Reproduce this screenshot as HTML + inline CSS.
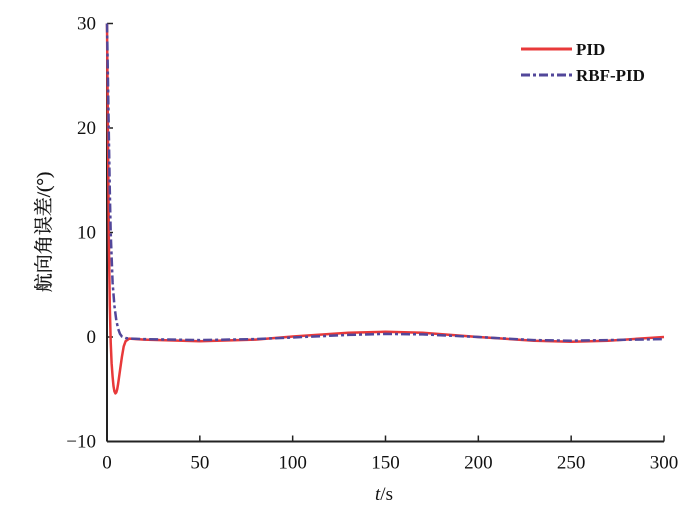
<!DOCTYPE html>
<html><head><meta charset="utf-8"><style>
body{margin:0;background:#fff;width:700px;height:522px;overflow:hidden}
text{font-family:"Liberation Serif","Noto Serif CJK SC",serif;fill:#111}
</style></head><body>
<svg width="700" height="522">
<g id="axes"></g><g id="series"></g>
<g>
<line x1="521" y1="49" x2="572" y2="49" stroke="#e8393a" stroke-width="3"/>
<text x="576" y="55" font-size="17" font-weight="bold">PID</text>
<line x1="521" y1="75" x2="572" y2="75" stroke="#52479a" stroke-width="3" stroke-dasharray="9,3,3,3"/>
<text x="576" y="81" font-size="17" font-weight="bold">RBF-PID</text>
</g>
<text x="384" y="500" font-size="19" text-anchor="middle"><tspan font-style="italic">t</tspan>/s</text>
<text transform="translate(50,232) rotate(-90)" font-size="19" text-anchor="middle" stroke="#111" stroke-width="0.3">航向角误差/(°)</text>
</svg>
<script>
const xTicks=[0,50,100,150,200,250,300];
const yTicks=[-10,0,10,20,30];
const yTickLabels=["−10","0","10","20","30"];
const tPID=[0,0.5,1,1.5,2,2.5,3,3.5,4,4.5,5,5.5,6,7,8,9,10,12,20,50,80,100,130,150,170,200,230,250,270,300];
const vPID=[30,20,9,3,-0.5,-2.5,-3.8,-4.7,-5.2,-5.4,-5.3,-5,-4.5,-3.2,-1.9,-0.9,-0.4,-0.15,-0.25,-0.4,-0.25,0.05,0.4,0.5,0.4,0,-0.35,-0.45,-0.35,0];
const tRBF=[0,0.5,1,1.5,2,3,4,5,6,7,8,10,12,20,50,80,100,130,150,170,200,230,250,270,300];
const vRBF=[30,25,19,14,10,5.2,3,1.6,0.8,0.3,0.05,-0.1,-0.15,-0.2,-0.3,-0.2,-0.05,0.2,0.3,0.25,0,-0.3,-0.35,-0.3,-0.2];
const X=t=>107+t*(557/300), Y=v=>337-v*10.45;
const NS="http://www.w3.org/2000/svg";
const ax=document.getElementById('axes'), se=document.getElementById('series');
function mk(tag,at,p){const e=document.createElementNS(NS,tag);for(const k in at)e.setAttribute(k,at[k]);p.appendChild(e);return e;}
let l=mk('line',{x1:107,y1:Y(30),x2:107,y2:Y(-10),stroke:'#222','stroke-width':2},ax);


l=mk('line',{x1:107,y1:Y(-10),x2:X(300),y2:Y(-10),stroke:'#222','stroke-width':2},ax);


xTicks.forEach(t=>{
 const k=mk('line',{x1:X(t),y1:Y(-10),x2:X(t),y2:Y(-10)-6,stroke:'#222','stroke-width':1.5},ax);
 
 
 const tx=mk('text',{x:X(t),y:Y(-10)+27,'font-size':19,'text-anchor':'middle'},ax);tx.textContent=t;
 
 
});
yTicks.forEach((v,i)=>{
 const k=mk('line',{x1:107,y1:Y(v),x2:113,y2:Y(v),stroke:'#222','stroke-width':1.5},ax);
 
 
 const tx=mk('text',{x:96,y:Y(v)+6,'font-size':19,'text-anchor':'end'},ax);tx.textContent=yTickLabels[i];
 
 
});
function path(ts,vs){return ts.map((t,i)=>(i?'L':'M')+X(t).toFixed(1)+','+Y(vs[i]).toFixed(1)).join(' ');}
let p=mk('path',{d:path(tPID,vPID),fill:'none',stroke:'#e8393a','stroke-width':2.5,'stroke-linejoin':'round'},se);


p=mk('path',{d:path(tRBF,vRBF),fill:'none',stroke:'#52479a','stroke-width':2.5,'stroke-dasharray':'9,3,3,3'},se);


</script>
</body></html>
